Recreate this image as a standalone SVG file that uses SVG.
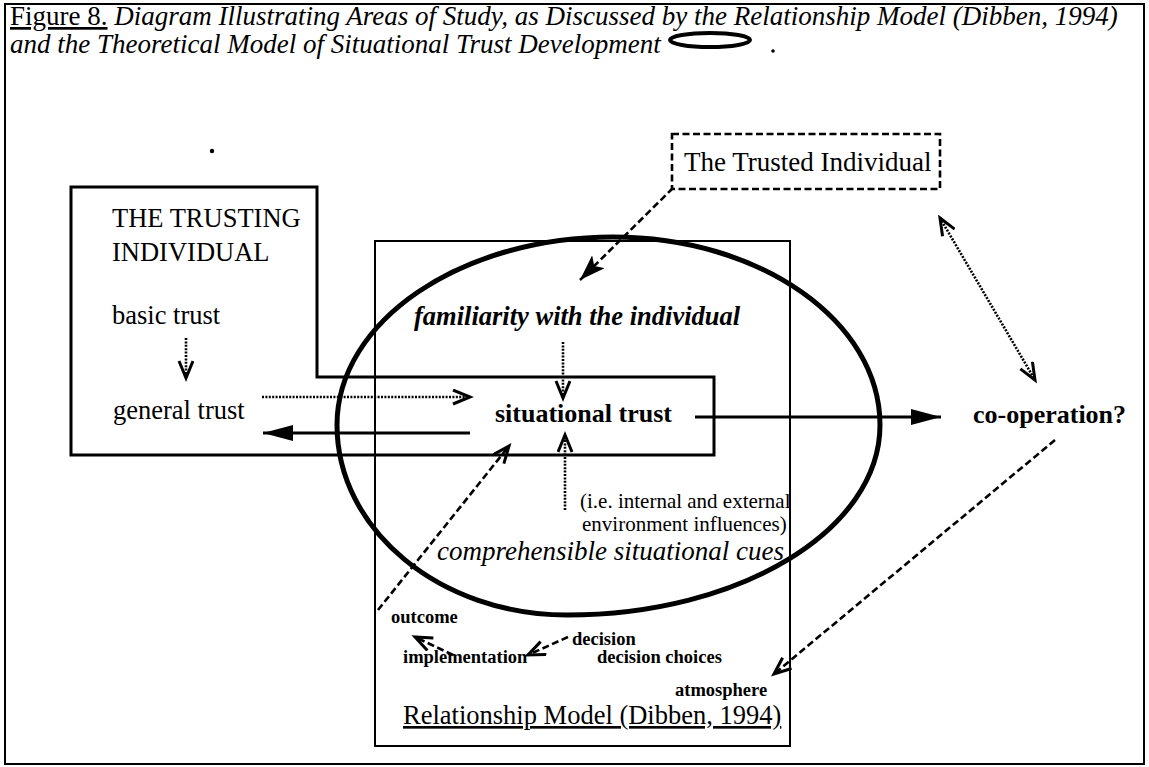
<svg xmlns="http://www.w3.org/2000/svg" width="1149" height="767" viewBox="0 0 1149 767">
  <style>
    text { font-family: "Liberation Serif", "Times New Roman", serif; fill: #000; }
    .title { font-size: 27px; }
    .lbl { font-size: 26.5px; }
    .bold { font-weight: bold; }
    .it { font-style: italic; }
    .small { font-size: 21px; }
    .tiny { font-size: 18.5px; font-weight: bold; }
    .frame { fill: none; stroke: #000; stroke-width: 2; }
    .thin { fill: none; stroke: #000; stroke-width: 2; }
    .solid { fill: none; stroke: #000; stroke-width: 3; }
    .dotted { fill: none; stroke: #000; stroke-width: 2.6; stroke-dasharray: 2 1.4; }
    .dashed { fill: none; stroke: #000; stroke-width: 2.6; stroke-dasharray: 7 3.5; }
  </style>
  <defs>
    <marker id="open" markerUnits="userSpaceOnUse" markerWidth="24" markerHeight="18" refX="19" refY="8" orient="auto">
      <path d="M2,1 L19,8 L2,15" fill="none" stroke="#000" stroke-width="3"/>
    </marker>
    <marker id="openStart" markerUnits="userSpaceOnUse" markerWidth="24" markerHeight="18" refX="3" refY="8" orient="auto">
      <path d="M20,1 L3,8 L20,15" fill="none" stroke="#000" stroke-width="3"/>
    </marker>
    <marker id="fill" markerUnits="userSpaceOnUse" markerWidth="32" markerHeight="18" refX="30" refY="8" orient="auto">
      <path d="M0,0 L30,8 L0,16 Z" fill="#000"/>
    </marker>
    <marker id="notch" markerUnits="userSpaceOnUse" markerWidth="28" markerHeight="20" refX="26" refY="9" orient="auto">
      <path d="M0,0 L26,9 L0,18 L6,9 Z" fill="#000"/>
    </marker>
  </defs>

  <!-- page frame -->
  <rect class="frame" x="5" y="4" width="1139" height="760"/>

  <!-- caption -->
  <g id="caption">
    <text class="title" x="10" y="25"><tspan text-decoration="underline">Figure 8.</tspan><tspan class="it"> Diagram Illustrating Areas of Study, as Discussed by the Relationship Model (Dibben, 1994)</tspan></text>
    <text class="title it" x="10" y="53">and the Theoretical Model of Situational Trust Development</text>
    <ellipse cx="710" cy="40" rx="40" ry="7" fill="none" stroke="#000" stroke-width="4"/>
    <circle cx="773" cy="51" r="1.8" fill="#000"/>
  </g>

  <circle cx="212" cy="151" r="2.2" fill="#000"/>

  <!-- relationship model box -->
  <g id="relationship-model">
    <rect class="thin" x="375" y="241" width="415" height="505"/>
    <text class="lbl" x="403" y="724" text-decoration="underline">Relationship Model (Dibben, 1994)</text>
    <text class="tiny" x="391" y="623">outcome</text>
    <text class="tiny" x="572" y="645">decision</text>
    <text class="tiny" x="403" y="663">implementation</text>
    <text class="tiny" x="597" y="663">decision choices</text>
    <text class="tiny" x="675" y="696">atmosphere</text>
  </g>

  <!-- trusting individual and situational trust outline -->
  <g id="trusting-individual">
    <path class="solid" d="M71,187 L317,187 L317,377 L714,377 L714,455 L71,455 Z"/>
    <text class="lbl" x="112" y="227">THE TRUSTING</text>
    <text class="lbl" x="112" y="261">INDIVIDUAL</text>
    <text class="lbl" x="112" y="324">basic trust</text>
    <text class="lbl" x="113" y="419">general trust</text>
  </g>

  <g id="situational-trust">
    <text class="bold" x="495" y="422" style="font-size:26px">situational trust</text>
  </g>

  <!-- theoretical model of situational trust development -->
  <g id="situational-model">
    <path d="M337,425 C337,321 461,237 613,237 C760,237 880,321 880,425 C880,530 740,615 567,615 C440,615 337,530 337,425 Z" fill="none" stroke="#000" stroke-width="5"/>
    <text class="it bold" x="414" y="325" style="font-size:26.5px">familiarity with the individual</text>
    <text class="small" x="580" y="508">(i.e. internal and external</text>
    <text class="small" x="582" y="531">environment influences)</text>
    <text class="it" x="437" y="560" style="font-size:27px">comprehensible situational cues</text>
  </g>

  <g id="trusted-individual">
    <rect x="672" y="134" width="268" height="55" fill="none" stroke="#000" stroke-width="2.6" stroke-dasharray="7 3.5"/>
    <text x="684" y="171" style="font-size:27px">The Trusted Individual</text>
  </g>

  <g id="co-operation">
    <text class="bold" x="973" y="423" style="font-size:26px">co-operation?</text>
  </g>

  <!-- connectors -->
  <g id="connectors">
    <line class="dotted" x1="186" y1="338" x2="186" y2="378" marker-end="url(#open)"/>
    <line class="dotted" x1="262" y1="397" x2="470" y2="397" marker-end="url(#open)"/>
    <line class="solid" x1="470" y1="433" x2="263" y2="433" marker-end="url(#fill)"/>
    <line class="dotted" x1="563" y1="342" x2="563" y2="398" marker-end="url(#open)"/>
    <line class="dotted" x1="565" y1="510" x2="565" y2="435" marker-end="url(#open)"/>
    <line class="solid" x1="695" y1="417" x2="941" y2="417" marker-end="url(#fill)"/>
    <line class="dashed" x1="673" y1="188" x2="580" y2="280" marker-end="url(#notch)"/>
    <line class="dotted" x1="940" y1="218" x2="1035" y2="380" marker-start="url(#openStart)" marker-end="url(#open)"/>
    <line class="dashed" x1="378" y1="610" x2="509" y2="446" marker-end="url(#open)"/>
    <line class="dashed" x1="1055" y1="440" x2="774" y2="674" marker-end="url(#open)"/>
    <line class="dashed" x1="568" y1="637" x2="528" y2="655" marker-end="url(#open)"/>
    <line class="dashed" x1="453" y1="655" x2="415" y2="637" marker-end="url(#open)"/>
  </g>
</svg>
